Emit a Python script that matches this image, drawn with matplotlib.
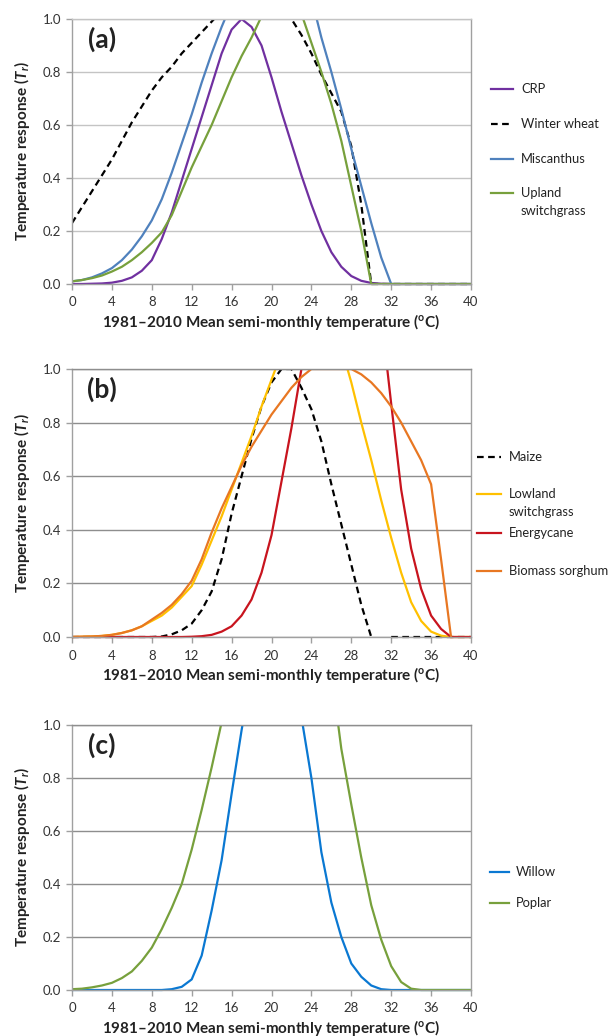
import numpy as np
import matplotlib
matplotlib.use('Agg')
import matplotlib.pyplot as plt
from matplotlib.lines import Line2D
from matplotlib.patches import Rectangle

# 字型設定
plt.rcParams['font.family'] = ['Lato', 'DejaVu Sans']
plt.rcParams['mathtext.fontset'] = 'custom'
plt.rcParams['mathtext.rm'] = 'Lato'
plt.rcParams['mathtext.it'] = 'Lato:italic'
plt.rcParams['mathtext.bf'] = 'Lato:bold'
plt.rcParams['mathtext.bfit'] = 'Lato:bold:italic'

W, H = 616, 1036
nan = np.nan

# 溫度 (0-40 °C, 每 1 度)
temp_c = list(range(41))

# (a)
crp = [0, 0, 0.001, 0.002, 0.005, 0.012, 0.025, 0.05, 0.09, 0.17,
       0.27, 0.39, 0.51, 0.63, 0.75, 0.87, 0.96, 1.0, 0.97, 0.9,
       0.78, 0.65, 0.53, 0.41, 0.3, 0.2, 0.12, 0.065, 0.03, 0.012,
       0.004, 0.001, 0, 0, 0, 0, 0, 0, 0, 0, 0]
winter_wheat = [0.23, 0.29, 0.35, 0.41, 0.47, 0.54, 0.61, 0.67, 0.73, 0.78,
                0.82, 0.87, 0.91, 0.95, 0.99, 1.03, 1.06, 1.08, 1.09, 1.09,
                1.07, 1.04, 1.0, 0.94, 0.87, 0.79, 0.72, 0.65, 0.52, 0.3,
                0, 0, 0, 0, 0, 0, 0, 0, 0, 0, 0]
miscanthus = [0.01, 0.015, 0.025, 0.04, 0.06, 0.09, 0.13, 0.18, 0.24, 0.32,
              0.42, 0.53, 0.64, 0.76, 0.87, 0.97, 1.06, 1.1, 1.12, 1.13,
              1.13, 1.12, 1.11, 1.1, 1.08, 0.93, 0.8, 0.66, 0.51, 0.37,
              0.23, 0.1, 0, 0, 0, 0, 0, 0, 0, 0, 0]
upland_sg = [0.01, 0.015, 0.022, 0.032, 0.047, 0.065, 0.09, 0.12, 0.155, 0.195,
             0.26, 0.35, 0.44, 0.52, 0.6, 0.69, 0.78, 0.86, 0.93, 1.01,
             1.05, 1.06, 1.05, 1.02, 0.91, 0.8, 0.68, 0.54, 0.37, 0.2,
             0, 0, 0, 0, 0, 0, 0, 0, 0, 0, 0]

# (b)
maize = [0, 0, 0, 0, 0, 0, 0, 0, 0, 0.002,
         0.01, 0.025, 0.05, 0.1, 0.17, 0.29, 0.46, 0.6, 0.74, 0.86,
         0.95, 1.0, 1.0, 0.93, 0.85, 0.73, 0.57, 0.42, 0.27, 0.12,
         0, nan, 0, 0, 0, 0, 0, 0, 0, 0, 0]
lowland_sg = [0, 0.001, 0.002, 0.004, 0.008, 0.015, 0.025, 0.04, 0.06, 0.08,
              0.11, 0.15, 0.19, 0.27, 0.36, 0.45, 0.55, 0.65, 0.75, 0.86,
              0.96, 1.06, 1.1, 1.12, 1.13, 1.12, 1.1, 1.08, 0.95, 0.8,
              0.66, 0.51, 0.37, 0.24, 0.13, 0.06, 0.02, 0.005, 0, 0, 0]
energycane = [0, 0, 0, 0, 0, 0, 0, 0, 0, 0,
              0, 0, 0.001, 0.003, 0.008, 0.02, 0.04, 0.08, 0.14, 0.24,
              0.38, 0.58, 0.78, 1.0, 1.2, 1.3, 1.35, 1.35, 1.35, 1.3,
              1.25, 1.2, 0.87, 0.55, 0.33, 0.18, 0.08, 0.03, 0, 0, 0]
sorghum = [0, 0.001, 0.002, 0.004, 0.008, 0.015, 0.025, 0.04, 0.065, 0.09,
           0.12, 0.16, 0.21, 0.29, 0.39, 0.48, 0.56, 0.64, 0.71, 0.77,
           0.83, 0.88, 0.93, 0.97, 1.0, 1.0, 1.0, 1.0, 1.0, 0.98,
           0.95, 0.91, 0.86, 0.8, 0.73, 0.66, 0.57, 0.29, 0, nan, nan]

# (c)
willow = [0, 0, 0, 0, 0, 0, 0, 0, 0, 0,
          0.003, 0.012, 0.04, 0.13, 0.3, 0.49, 0.74, 0.98, 1.2, 1.3,
          1.3, 1.3, 1.3, 1.03, 0.8, 0.52, 0.33, 0.2, 0.1, 0.05,
          0.017, 0.003, 0, 0, 0, 0, 0, 0, 0, 0, 0]
poplar = [0.003, 0.005, 0.01, 0.017, 0.027, 0.045, 0.07, 0.11, 0.16, 0.23,
          0.31, 0.4, 0.53, 0.68, 0.84, 1.01, 1.2, 1.3, 1.35, 1.35,
          1.35, 1.35, 1.35, 1.35, 1.35, 1.3, 1.2, 0.91, 0.7, 0.5,
          0.32, 0.19, 0.09, 0.03, 0.005, 0, 0, 0, 0, 0, 0]

LW = 1.6
DASH = (0, (3, 2))
TXT = '#222222'

panels = [
    {
        'tag': '(a)', 'px': (19, 284), 'grid': '#C4C4C4',
        'series': [
            ('CRP', crp, '#7030A0', '-'),
            ('Winter wheat', winter_wheat, '#000000', DASH),
            ('Miscanthus', miscanthus, '#4F81BD', '-'),
            ('Upland\nswitchgrass', upland_sg, '#77A03C', '-'),
        ],
        'leg_y': [89, 124, 159, 193], 'leg_x': (491, 513, 521),
    },
    {
        'tag': '(b)', 'px': (369, 637), 'grid': '#8E8E8E',
        'series': [
            ('Maize', maize, '#000000', DASH),
            ('Lowland\nswitchgrass', lowland_sg, '#FFC000', '-'),
            ('Energycane', energycane, '#C8141E', '-'),
            ('Biomass sorghum', sorghum, '#E87722', '-'),
        ],
        'leg_y': [457, 494, 533, 571], 'leg_x': (477, 501, 509),
    },
    {
        'tag': '(c)', 'px': (725, 990), 'grid': '#8E8E8E',
        'series': [
            ('Willow', willow, '#0A78D2', '-'),
            ('Poplar', poplar, '#77A03C', '-'),
        ],
        'leg_y': [872, 903], 'leg_x': (490, 509, 516),
    },
]

fig = plt.figure(figsize=(W / 100, H / 100), dpi=100)
ax_left, ax_right = 72, 471

for p in panels:
    top, bottom = p['px']
    ax = fig.add_axes([ax_left / W, 1 - bottom / H, (ax_right - ax_left) / W, (bottom - top) / H])
    clip = Rectangle((0, -0.015), 40, 1.015, transform=ax.transData, facecolor='none', edgecolor='none')
    ax.add_patch(clip)
    for label, vals, color, ls in p['series']:
        line, = ax.plot(temp_c, vals, color=color, lw=LW, ls=ls)
        line.set_clip_path(clip)

    ax.set_xlim(0, 40)
    ax.set_ylim(0, 1)
    ax.set_xticks(range(0, 41, 4))
    ax.set_yticks(np.arange(0, 1.01, 0.2))
    ax.set_yticklabels([f'{v:.1f}' for v in np.arange(0, 1.01, 0.2)])
    ax.yaxis.grid(True, color=p['grid'], lw=1.0)
    ax.set_axisbelow(True)
    for s in ax.spines.values():
        s.set_color('#A0A0A0')
        s.set_linewidth(1.0)
    ax.spines['top'].set_color(p['grid'])
    ax.tick_params(axis='both', direction='out', length=4, width=1.0, color='#A0A0A0',
                   labelsize=9.5, labelcolor='#333333', pad=4)
    ax.tick_params(axis='x', pad=5)

    ax.set_xlabel('1981–2010 Mean semi-monthly temperature (${}^{\\mathbf{o}}$C)',
                  fontsize=11, fontweight='bold', color=TXT, va='center')
    ax.xaxis.set_label_coords(0.5, -(322 - 284) / 265)
    ax.set_ylabel('Temperature response ($\\mathbfit{T}_{\\mathbfit{r}}$)',
                  fontsize=11, fontweight='bold', color=TXT, va='center')
    ax.yaxis.set_label_coords(-(72 - 22) / 399, 0.5)

    ax.text(0.075, 0.925, p['tag'], transform=ax.transAxes, fontsize=19,
            fontweight='bold', color=TXT, ha='center', va='center')

    # 圖例 (手動放置, 多行標籤對齊第一行)
    x0, x1, xt = p['leg_x']
    for (label, vals, color, ls), y in zip(p['series'], p['leg_y']):
        fig.add_artist(Line2D([x0 / W, x1 / W], [1 - y / H, 1 - y / H], color=color, lw=LW, ls=ls))
        for i, part in enumerate(label.split('\n')):
            fig.text(xt / W, 1 - (y + 4 + 18 * i) / H, part, fontsize=9.3, color=TXT,
                     ha='left', va='baseline')

fig.savefig('out.png', dpi=100)
